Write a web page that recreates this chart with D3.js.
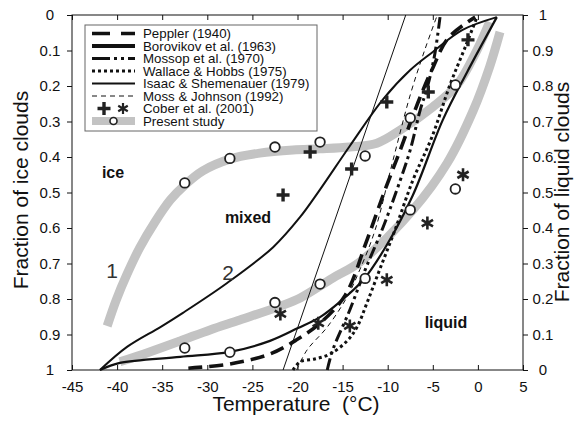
<!DOCTYPE html>
<html>
<head>
<meta charset="utf-8">
<script src="https://cdn.jsdelivr.net/npm/d3@7"></script>
<style>
  html, body { margin: 0; padding: 0; background: #fff; }
  svg text { font-family: "Liberation Sans", Arial, sans-serif; fill: #111; }
</style>
</head>
<body>
<svg id="chart" width="581" height="422"></svg>
<script>
// Temperature ticks (°C) and fraction ticks
const tempTicks = [-45, -40, -35, -30, -25, -20, -15, -10, -5, 0, 5];
const fracTicks = [0, 0.1, 0.2, 0.3, 0.4, 0.5, 0.6, 0.7, 0.8, 0.9, 1];

// Each curve: [temperature °C, fraction of ice clouds]
const presentUpper = [[-41.1,0.876],[-40.1,0.803],[-38.9,0.73],[-37.5,0.656],[-35.8,0.583],[-34.1,0.521],[-32.5,0.479],[-30.5,0.439],[-27.5,0.406],[-24.2,0.389],[-20.5,0.380],[-17.5,0.377],[-14.2,0.372],[-11.2,0.361],[-8.6,0.324],[-5.0,0.259],[-2.3,0.197],[-0.1,0.099],[1.3,0.02]];
const presentLower = [[-39.7,0.977],[-36.4,0.949],[-33.0,0.918],[-29.7,0.887],[-26.4,0.859],[-21.9,0.820],[-19.7,0.797],[-16.1,0.741],[-13.1,0.696],[-7.2,0.549],[-3.4,0.417],[-0.5,0.268],[1.3,0.146],[2.45,0.048]];
const presentPointsUpper = [[-32.5,0.473],[-27.5,0.404],[-22.5,0.372],[-17.5,0.358],[-12.5,0.397],[-7.5,0.29],[-2.5,0.197]];
const presentPointsLower = [[-32.5,0.938],[-27.5,0.95],[-22.5,0.81],[-17.5,0.758],[-12.5,0.742],[-7.5,0.549],[-2.5,0.49]];

const curve2 = [[-41.9,1.0],[-38.9,0.935],[-35.2,0.879],[-32.7,0.839],[-27.8,0.755],[-22.7,0.654],[-19.7,0.569],[-17.7,0.499],[-14.2,0.369],[-10.5,0.237],[-7.5,0.155],[-5.0,0.104],[-1.7,0.042],[2.1,0.006]];
const borovikov = [[-41.9,1.0],[-39.7,0.980],[-33.0,0.963],[-27.5,0.949],[-23.05,0.918],[-19.95,0.882],[-17.5,0.851],[-15.3,0.808],[-12.7,0.746],[-10.1,0.648],[-7.2,0.507],[-3.9,0.296],[-1.2,0.161],[2.1,0.006]];
const isaac = [[-21.6,1.0],[-8.0,0.0]];
const peppler = [[-32.1,0.995],[-27.5,0.983],[-23.05,0.955],[-20.1,0.915],[-17.5,0.868],[-14.7,0.789],[-12.3,0.634],[-10.3,0.493],[-8.6,0.380],[-6.4,0.231],[-5.0,0.149],[-3.3,0.065],[-0.3,0.006]];
const mossop = [[-16.7,1.0],[-16.1,0.944],[-14.2,0.831],[-12.5,0.718],[-10.5,0.597],[-8.6,0.465],[-7.5,0.380],[-6.4,0.268],[-5.6,0.203],[-4.8,0.113],[-4.2,0.006]];
const wallace = [[-20.5,1.0],[-19.7,0.977],[-18.1,0.969],[-16.4,0.955],[-14.5,0.918],[-13.4,0.879],[-12.3,0.811],[-10.9,0.718],[-9.2,0.606],[-7.2,0.465],[-5.1,0.344],[-3.1,0.197],[-1.4,0.090],[-0.1,0.006]];
const mossJohnson = [[-20.1,1.0],[-18.95,0.944],[-16.7,0.879],[-14.5,0.794],[-13.1,0.718],[-11.4,0.606],[-9.4,0.408],[-7.5,0.225],[-5.9,0.099],[-4.5,0.0]];

const coberPlus = [[-21.6,0.507],[-18.6,0.386],[-14.0,0.434],[-10.1,0.245],[-5.5,0.217],[-1.1,0.07]];
const coberStar = [[-21.9,0.842],[-17.7,0.868],[-14.2,0.876],[-10.1,0.746],[-5.6,0.586],[-1.65,0.45]];

const legendLabels = ["Peppler (1940)", "Borovikov et al. (1963)", "Mossop et al. (1970)", "Wallace & Hobbs (1975)", "Isaac & Shemenauer (1979)", "Moss & Johnson (1992)", "Cober et al. (2001)", "Present study"];

const FONT = "'Liberation Sans', Arial, sans-serif";
const svg = d3.select("#chart");
const pLeft = 72, pRight = 523, pTop = 15, pBottom = 370;

const x = d3.scaleLinear().domain([-45, 5]).range([pLeft, pRight]);
const y = d3.scaleLinear().domain([0, 1]).range([pTop, pBottom]);        // fraction of ice
const yLiq = d3.scaleLinear().domain([0, 1]).range([pBottom, pTop]);     // fraction of liquid

const line = d3.line().x(d => x(d[0])).y(d => y(d[1])).curve(d3.curveCatmullRom.alpha(0.5));
const straight = d3.line().x(d => x(d[0])).y(d => y(d[1]));

svg.append("defs").append("clipPath").attr("id", "plotclip")
  .append("rect").attr("x", pLeft).attr("y", pTop - 2).attr("width", pRight - pLeft).attr("height", pBottom - pTop + 4);

const plot = svg.append("g").attr("clip-path", "url(#plotclip)");

// Present study: broad grey bands
const grey = "#c3c3c3";
[presentUpper, presentLower].forEach(d => {
  plot.append("path").attr("d", line(d)).attr("fill", "none")
    .attr("stroke", grey).attr("stroke-width", 9).attr("stroke-linecap", "butt");
});

// Literature curves
const styles = {
  peppler:  { w: 3.6, dash: "14,7" },
  borovikov:{ w: 2.2, dash: null },
  mossop:   { w: 3, dash: "12,4,3,4,3,4" },
  wallace:  { w: 3, dash: "3,3" },
  isaac:    { w: 1, dash: null },
  moss:     { w: 1, dash: "5,4" },
  curve2:   { w: 2, dash: null }
};
function drawCurve(data, s, gen) {
  const p = plot.append("path").attr("d", (gen || line)(data)).attr("fill", "none")
    .attr("stroke", "#111").attr("stroke-width", s.w);
  if (s.dash) p.attr("stroke-dasharray", s.dash);
}
drawCurve(curve2, styles.curve2);
drawCurve(borovikov, styles.borovikov);
drawCurve(isaac, styles.isaac, straight);
drawCurve(mossJohnson, styles.moss);
drawCurve(wallace, styles.wallace);
drawCurve(mossop, styles.mossop);
drawCurve(peppler, styles.peppler);

// Markers
const plusPath = "M-6.5,0H6.5M0,-6.5V6.5";
const starPath = (() => {
  let p = "";
  for (let i = 0; i < 3; i++) {
    const a = Math.PI / 2 + i * Math.PI / 3;
    const dx = 6.5 * Math.cos(a), dy = 6.5 * Math.sin(a);
    p += `M${-dx},${-dy}L${dx},${dy}`;
  }
  return p;
})();

svg.append("g").selectAll("path").data(coberPlus).join("path")
  .attr("transform", d => `translate(${x(d[0])},${y(d[1])})`)
  .attr("d", plusPath).attr("stroke", "#222").attr("stroke-width", 3.4).attr("fill", "none");
svg.append("g").selectAll("path").data(coberStar).join("path")
  .attr("transform", d => `translate(${x(d[0])},${y(d[1])})`)
  .attr("d", starPath).attr("stroke", "#222").attr("stroke-width", 2.6).attr("fill", "none");
svg.append("g").selectAll("circle").data(presentPointsUpper.concat(presentPointsLower)).join("circle")
  .attr("cx", d => x(d[0])).attr("cy", d => y(d[1])).attr("r", 4.8)
  .attr("fill", "#fff").attr("stroke", "#222").attr("stroke-width", 1.8);

// Region labels
svg.append("text").attr("x", 113).attr("y", 178).attr("text-anchor", "middle")
  .attr("font-size", 16).attr("font-weight", "bold").text("ice");
svg.append("text").attr("x", 248).attr("y", 223).attr("text-anchor", "middle")
  .attr("font-size", 16).attr("font-weight", "bold").text("mixed");
svg.append("text").attr("x", 446).attr("y", 328).attr("text-anchor", "middle")
  .attr("font-size", 16).attr("font-weight", "bold").text("liquid");
svg.append("text").attr("x", 112).attr("y", 278).attr("text-anchor", "middle")
  .attr("font-size", 21).style("fill", "#333").text("1");
svg.append("text").attr("x", 228).attr("y", 280).attr("text-anchor", "middle")
  .attr("font-size", 21).style("fill", "#333").text("2");

// Frame
svg.append("rect").attr("x", pLeft).attr("y", pTop).attr("width", pRight - pLeft).attr("height", pBottom - pTop)
  .attr("fill", "none").attr("stroke", "#111").attr("stroke-width", 1);

// Axes
const fmt = d => String(d);
const xAxisB = svg.append("g").attr("transform", `translate(0,${pBottom})`)
  .call(d3.axisBottom(x).tickValues(tempTicks).tickFormat(fmt).tickSizeInner(-5).tickSizeOuter(0).tickPadding(11));
const xAxisT = svg.append("g").attr("transform", `translate(0,${pTop})`)
  .call(d3.axisTop(x).tickValues(tempTicks).tickFormat("").tickSizeInner(-5).tickSizeOuter(0));
const yAxisL = svg.append("g").attr("transform", `translate(${pLeft},0)`)
  .call(d3.axisLeft(y).tickValues(fracTicks).tickFormat(fmt).tickSizeInner(5).tickSizeOuter(0).tickPadding(9));
const yAxisR = svg.append("g").attr("transform", `translate(${pRight},0)`)
  .call(d3.axisRight(yLiq).tickValues(fracTicks).tickFormat(fmt).tickSizeInner(5).tickSizeOuter(0).tickPadding(9));

[xAxisB, xAxisT, yAxisL, yAxisR].forEach(g => {
  g.select(".domain").remove();
  g.selectAll(".tick line").attr("stroke", "#111");
  g.selectAll("text").attr("font-size", 15).attr("font-family", FONT).style("fill", "#111");
});
yAxisL.selectAll("text").attr("text-anchor", "middle").attr("x", -22);
yAxisR.selectAll("text").attr("text-anchor", "middle").attr("x", 20);

// Axis titles
svg.append("text").attr("x", 296).attr("y", 411).attr("text-anchor", "middle")
  .attr("font-size", 21).text("Temperature\u00a0\u00a0(°C)");
svg.append("text").attr("transform", "translate(28,190) rotate(-90)").attr("text-anchor", "middle")
  .attr("font-size", 21).text("Fraction of ice clouds");
svg.append("text").attr("transform", "translate(569,192) rotate(-90)").attr("text-anchor", "middle")
  .attr("font-size", 21).text("Fraction of liquid clouds");

// Legend
const lg = svg.append("g");
lg.append("rect").attr("x", 85).attr("y", 25).attr("width", 232).attr("height", 106)
  .attr("fill", "#fff").attr("stroke", "#666").attr("stroke-width", 1);
const rowY = i => 33.5 + i * 12.5;
const lx0 = 92, lx1 = 135;
const legendStyles = [styles.peppler, styles.borovikov, styles.mossop, styles.wallace, styles.isaac, styles.moss];
legendStyles.forEach((s, i) => {
  const p = lg.append("line").attr("x1", lx0).attr("x2", lx1).attr("y1", rowY(i)).attr("y2", rowY(i))
    .attr("stroke", "#111").attr("stroke-width", i === 1 ? 4 : (i === 4 ? 2 : s.w));
  if (s.dash) p.attr("stroke-dasharray", i === 0 ? "18,11" : (i === 2 ? "18,4,3,4,3,4" : s.dash));
});
lg.append("path").attr("transform", `translate(104,${rowY(6)})`).attr("d", plusPath)
  .attr("stroke", "#222").attr("stroke-width", 3.4).attr("fill", "none");
lg.append("path").attr("d", starPath)
  .attr("stroke", "#222").attr("stroke-width", 2.6).attr("fill", "none").attr("transform", `translate(123,${rowY(6)}) scale(0.85)`);
lg.append("line").attr("x1", lx0).attr("x2", lx1).attr("y1", rowY(7)).attr("y2", rowY(7))
  .attr("stroke", grey).attr("stroke-width", 8);
lg.append("circle").attr("cx", (lx0 + lx1) / 2).attr("cy", rowY(7)).attr("r", 3.5)
  .attr("fill", "#fff").attr("stroke", "#222").attr("stroke-width", 1.6);
legendLabels.forEach((t, i) => {
  lg.append("text").attr("x", 143).attr("y", rowY(i) + 4.5).attr("font-size", 13.3).text(t);
});
</script>
</body>
</html>
